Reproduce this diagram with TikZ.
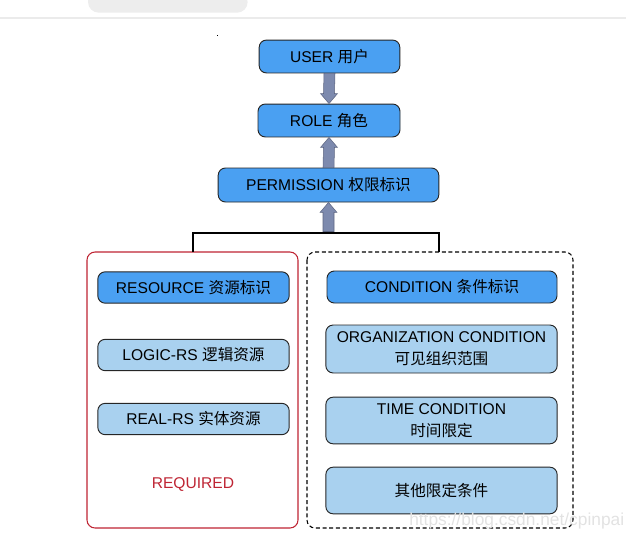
\documentclass[tikz,border=0pt]{standalone}
\usepackage{fontspec}
\setmainfont{Liberation Sans}
\newfontfamily\cjk{Noto Sans CJK SC}
\usetikzlibrary{calc}
\definecolor{darkfill}{HTML}{4AA0F2}
\definecolor{lightfill}{HTML}{A9D1EF}
\definecolor{arrowcol}{HTML}{7D8AAE}
\definecolor{redline}{HTML}{BE2433}
\definecolor{wm}{HTML}{E2E2E2}
\tikzset{
  px/.style={x=0.75pt,y=-0.75pt},
  darkbox/.style={draw=black!85,line width=0.7pt,rounded corners=5.5pt,fill=darkfill,inner sep=0pt,align=center,font=\fontsize{11.7}{16.5}\selectfont},
  lightbox/.style={draw=black!85,line width=0.7pt,rounded corners=5.5pt,fill=lightfill,inner sep=0pt,align=center,font=\fontsize{11.7}{16.5}\selectfont},
  fatarrow/.style={draw=arrowcol!75!black,line width=0.4pt,fill=arrowcol},
}
\newcommand{\zh}[1]{{\cjk #1}}
% \fatup{from}{to}: arrow pointing up, tail at #1, tip at #2
\newcommand{\fatup}[2]{%
  \draw[fatarrow] ($(#1)+(-5.5,0)$) -- ($(#2)+(-5.5,10)$) -- ($(#2)+(-8.5,10)$) -- (#2)
    -- ($(#2)+(8.5,10)$) -- ($(#2)+(5.5,10)$) -- ($(#1)+(5.5,0)$) -- cycle;}
\newcommand{\fatdown}[2]{%
  \draw[fatarrow] ($(#1)+(-5.5,0)$) -- ($(#2)+(-5.5,-10)$) -- ($(#2)+(-8.5,-10)$) -- (#2)
    -- ($(#2)+(8.5,-10)$) -- ($(#2)+(5.5,-10)$) -- ($(#1)+(5.5,0)$) -- cycle;}
\begin{document}
\begin{tikzpicture}[px]
\useasboundingbox (0,0) rectangle (626,540);
% top tab and rule
\fill[black!7] (88,-10) -- (88,2) arc[start angle=180,end angle=270,radius=8pt] -- (237,12.7) arc[start angle=270,end angle=360,radius=8pt] -- (245,-10) -- cycle;
\draw[black!8,line width=0.8pt] (0,18) -- (626,18);
\fill[black] (216.5,34.5) rectangle (218,36);
% top boxes
\node[darkbox,minimum width=105.5pt,minimum height=24.7pt] (user) at (329.5,56.5) {USER \zh{用户}};
\node[darkbox,minimum width=106.5pt,minimum height=24.7pt] (role) at (329,120.5) {ROLE \zh{角色}};
\node[darkbox,minimum width=165.5pt,minimum height=25.5pt] (perm) at (328.5,185) {PERMISSION \zh{权限标识}};
% containers
\draw[redline,line width=0.8pt,rounded corners=6pt] (87,252) rectangle (298,528);
\node[inner sep=0pt] (req) at (193,485) {\color{redline}\fontsize{11.7}{14}\selectfont REQUIRED};
\draw[black,line width=0.8pt,dash pattern=on 3pt off 2pt,rounded corners=6pt] (307,252) rectangle (573,528);
\coordinate (lbox) at (193,252);
\coordinate (rbox) at (439,252);
\coordinate (lcorner) at (193,232.5);
\coordinate (rcorner) at (439,232.5);
\coordinate (mid) at (328.5,231.5);
% bracket
\draw[black,line width=1.5pt] (lbox) -- (lcorner) -- (rcorner) -- (rbox);
% left boxes
\node[darkbox,minimum width=143.5pt,minimum height=23.5pt] (res) at (193.5,287.5) {RESOURCE \zh{资源标识}};
\node[lightbox,minimum width=143.5pt,minimum height=23.5pt] (logic) at (193.5,355) {LOGIC-RS \zh{逻辑资源}};
\node[lightbox,minimum width=143.5pt,minimum height=23.5pt] (real) at (193.5,419) {REAL-RS \zh{实体资源}};
% right boxes
\node[darkbox,minimum width=172.5pt,minimum height=24pt] (cond) at (442,287) {CONDITION \zh{条件标识}};
\node[lightbox,minimum width=173.5pt,minimum height=36pt] (org) at (441.5,349) {ORGANIZATION CONDITION\\\zh{可见组织范围}};
\node[lightbox,minimum width=173.5pt,minimum height=35pt] (time) at (441.5,420.5) {TIME CONDITION\\\zh{时间限定}};
\node[lightbox,minimum width=173.5pt,minimum height=35pt] (other) at (441.5,490.5) {\zh{其他限定条件}};
% fat arrows
\fatdown{user.south}{role.north}
\fatup{perm.north}{role.south}
\fatup{mid}{perm.south}
% watermark
\node[anchor=west,inner sep=0pt] (wmark) at (409,521) {\color{wm}\fontsize{13}{14}\selectfont https://blog.csdn.net/cpinpai};
\end{tikzpicture}
\end{document}
